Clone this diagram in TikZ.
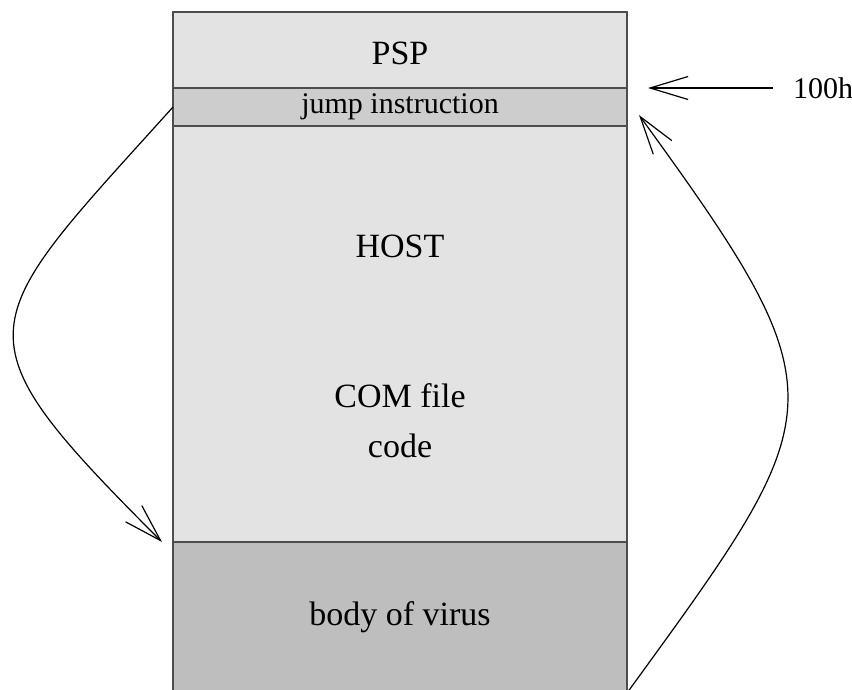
\documentclass[tikz,border=0pt]{standalone}
\usepackage{fontspec}
\setmainfont{Liberation Serif}
\usetikzlibrary{positioning, arrows.meta}
\definecolor{seglight}{HTML}{E3E3E3}
\definecolor{segmid}{HTML}{CDCDCD}
\definecolor{segdark}{HTML}{BEBEBE}
\definecolor{segedge}{HTML}{4D4D4D}
\tikzset{
  seg/.style  = {rectangle, draw=segedge, line width=0.9pt, fill=seglight,
                 minimum width=227pt, inner sep=0pt, outer sep=0pt, align=center,
                 font=\fontsize{17}{25}\selectfont},
  lab/.style  = {font=\fontsize{17}{25}\selectfont, align=center, inner sep=0pt},
  ptr/.style  = {line width=0.6pt, -{Straight Barb[length=19pt, width=11.5pt]}},
}

\begin{document}
\begin{tikzpicture}
\useasboundingbox (0,0) rectangle (426pt,-345pt);

% Memory image of the infected COM file, top to bottom
\node (psp)   [seg, minimum height=38pt, text height=14.3pt, anchor=north] at (200pt,-6pt) {PSP};
\node (jump)  [seg, fill=segmid, minimum height=19pt, below=0pt of psp,
               font=\fontsize{15}{18}\selectfont] {jump instruction};
\node (host)  [seg, minimum height=208pt, below=0pt of jump] {};
\node (virus) [seg, fill=segdark, minimum height=75.5pt, below=0pt of host] {body of virus};

% Texts inside the host part
\node (hostname) [lab] at ([yshift=43.75pt]host.center) {HOST};
\node (hostcode) [lab] at ([yshift=-43.3pt]host.center) {COM file\\code};

% Entry address
\node (addr) [lab, font=\fontsize{15}{18}\selectfont, outer xsep=10pt,
              right=73pt of jump.north east] {100h};
\draw [ptr] (addr.west) -- ([xshift=10.5pt]jump.north east);

% Jump into the virus, then back to the host
\draw [ptr] (jump.west) to[out=228, in=135, looseness=1.75] ([xshift=-5.5pt]virus.north west);
\draw [ptr] (virus.south east) to[out=54, in=-54, looseness=1.55] ([shift={(6pt,5.5pt)}]jump.south east);

\end{tikzpicture}
\end{document}
